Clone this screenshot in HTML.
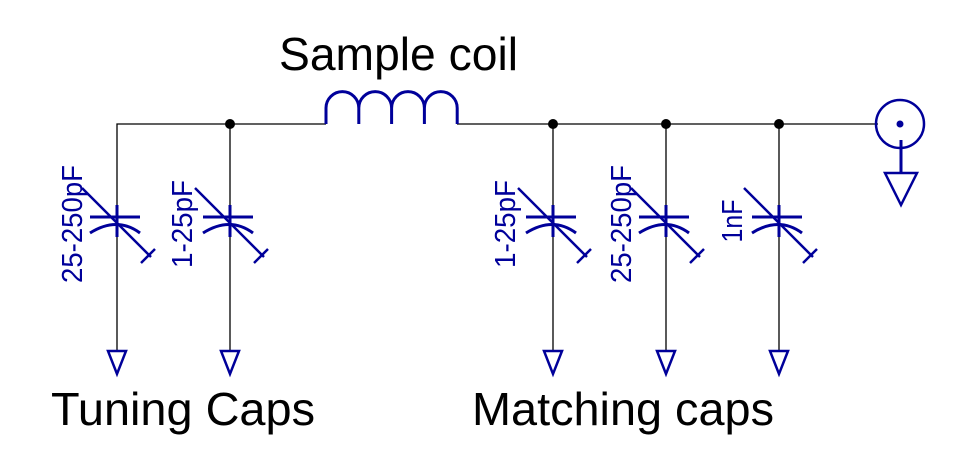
<!DOCTYPE html>
<html><head><style>html,body{margin:0;padding:0;background:#fff;}svg{display:block}</style></head>
<body>
<svg width="963" height="465" viewBox="0 0 963 465" xmlns="http://www.w3.org/2000/svg">
<defs>
<g id="cap">
  <line x1="-27" y1="93" x2="23" y2="93" stroke="#00009a" stroke-width="3"/>
  <line x1="0" y1="81" x2="0" y2="113" stroke="#00009a" stroke-width="3"/>
  <path d="M-27 109 Q0 92 23 109" fill="none" stroke="#00009a" stroke-width="3"/>
  <line x1="-35" y1="64" x2="34" y2="133" stroke="#00009a" stroke-width="2.5"/>
  <line x1="24" y1="139" x2="38" y2="125" stroke="#00009a" stroke-width="2.5"/>
</g>
<g id="gnd">
  <polygon points="-9,351 9,351 0,374" fill="none" stroke="#00009a" stroke-width="2.5"/>
</g>
</defs>
<g stroke="#000" stroke-width="1.3" fill="none">
  <polyline points="117,350 117,124 326,124"/>
  <line x1="457" y1="124" x2="878" y2="124"/>
  <line x1="230" y1="124" x2="230" y2="350"/>
  <line x1="553" y1="124" x2="553" y2="350"/>
  <line x1="666" y1="124" x2="666" y2="350"/>
  <line x1="779" y1="124" x2="779" y2="350"/>
</g>
<g fill="#000">
  <circle cx="230" cy="124" r="5"/><circle cx="553" cy="124" r="5"/>
  <circle cx="666" cy="124" r="5"/><circle cx="779" cy="124" r="5"/>
</g>
<path d="M326 124 V108 A16.4 16.4 0 0 1 358.8 108 V124 M358.8 108 A16.4 16.4 0 0 1 391.6 108 V124 M391.6 108 A16.4 16.4 0 0 1 424.4 108 V124 M424.4 108 A16.4 16.4 0 0 1 457.2 108 V124" fill="none" stroke="#00009a" stroke-width="3"/>
<g transform="translate(117,124)"><use href="#cap"/></g>
<g transform="translate(230,124)"><use href="#cap"/></g>
<g transform="translate(553,124)"><use href="#cap"/></g>
<g transform="translate(666,124)"><use href="#cap"/></g>
<g transform="translate(779,124)"><use href="#cap"/></g>
<g transform="translate(117,0)"><use href="#gnd"/></g>
<g transform="translate(230,0)"><use href="#gnd"/></g>
<g transform="translate(553,0)"><use href="#gnd"/></g>
<g transform="translate(666,0)"><use href="#gnd"/></g>
<g transform="translate(779,0)"><use href="#gnd"/></g>
<circle cx="900" cy="124" r="24" fill="none" stroke="#00009a" stroke-width="2.5"/>
<circle cx="900" cy="124" r="3.5" fill="#00009a"/>
<line x1="901" y1="140" x2="901" y2="173" stroke="#00009a" stroke-width="3"/>
<polygon points="885,173 917,173 901,205" fill="none" stroke="#00009a" stroke-width="2.5"/>
<g font-family="Liberation Sans, sans-serif" font-size="29" fill="#00009a" text-anchor="middle">
  <text transform="translate(82,224) rotate(-90)" textLength="118" lengthAdjust="spacingAndGlyphs">25-250pF</text>
  <text transform="translate(192,224) rotate(-90)" textLength="88" lengthAdjust="spacingAndGlyphs">1-25pF</text>
  <text transform="translate(515,224) rotate(-90)" textLength="88" lengthAdjust="spacingAndGlyphs">1-25pF</text>
  <text transform="translate(631,224) rotate(-90)" textLength="118" lengthAdjust="spacingAndGlyphs">25-250pF</text>
  <text transform="translate(742,221) rotate(-90)" textLength="43" lengthAdjust="spacingAndGlyphs">1nF</text>
</g>
<g font-family="Liberation Sans, sans-serif" font-size="46" fill="#000">
  <text x="279" y="70" textLength="239" lengthAdjust="spacingAndGlyphs">Sample coil</text>
  <text x="51" y="425" textLength="264" lengthAdjust="spacingAndGlyphs">Tuning Caps</text>
  <text x="472" y="425" textLength="302" lengthAdjust="spacingAndGlyphs">Matching caps</text>
</g>
</svg>
</body></html>
